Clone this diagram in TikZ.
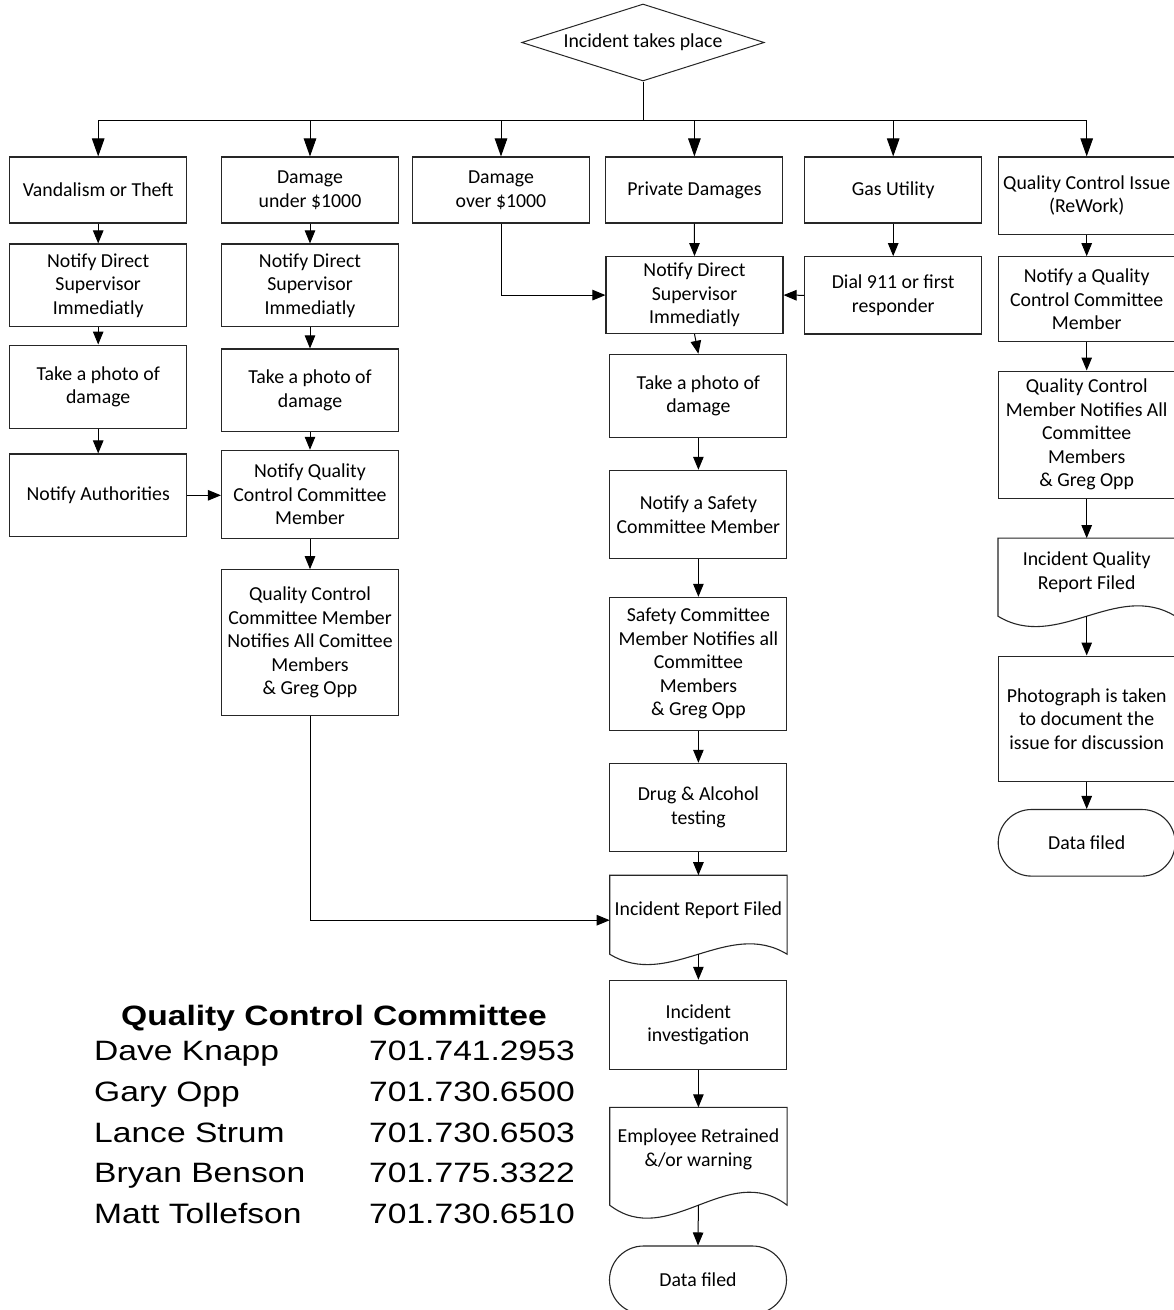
\documentclass[tikz,border=0pt]{standalone}
\usepackage{fontspec}
\setmainfont{Carlito}
\newfontfamily\arialx[FakeStretch=1.2]{Liberation Sans}
\usetikzlibrary{arrows.meta,shapes.geometric,shapes.misc,calc}
\newcommand\bxfont{\fontsize{19.8}{23.5}\selectfont}
\newcommand\docoutline[2]{%
  \draw[boxline] (#1.south west) -- (#1.north west) -- (#1.north east) -- (#1.south east)
    .. controls ($(#1.south west)!0.6667!(#1.south east)+(0,-#2)$) and ($(#1.south west)!0.3333!(#1.south east)+(0,#2)$) .. (#1.south west) -- cycle;}
\begin{document}
\begin{tikzpicture}[x=1pt,y=-1pt,
  boxline/.style={draw=black!85, line width=1.1pt},
  box/.style={boxline, rectangle, minimum width=177pt, inner sep=0pt, align=center, font=\bxfont},
  docbox/.style={rectangle, minimum width=177pt, inner sep=0pt},
  doctext/.style={align=center, font=\bxfont, inner sep=0pt},
  term/.style={boxline, rounded rectangle, minimum width=177pt, inner sep=0pt, font=\bxfont},
  diam/.style={draw=black!85, line width=1pt, diamond, minimum width=242.5pt, minimum height=77pt, inner sep=0pt, font=\bxfont},
  conn/.style={line width=1pt},
  arr/.style={conn, -{Triangle[length=13pt,width=10.5pt]}},
  bigarr/.style={conn, -{Triangle[length=18pt,width=12.5pt]}},
  big/.style={anchor=base west, inner sep=0pt, font=\arialx\fontsize{28}{28}\selectfont}
]
\path[fill=white, use as bounding box] (0,0) rectangle (1174,1310);

% start
\node[diam] (start) at (643,42.5) {\makebox[0pt]{Incident takes place}};

% top row
\node[box, minimum height=66pt] (a1) at (98.2,190) {Vandalism or Theft};
\node[box, minimum height=66pt] (b1) at (310,190) {Damage\\under \$1000};
\node[box, minimum height=66pt] (c1) at (501,190) {Damage\\over \$1000};
\node[box, minimum height=66pt] (d1) at (694.4,190) {Private Damages};
\node[box, minimum height=66pt] (e1) at (893.2,190) {Gas Utility};
\node[box, minimum height=77.3pt] (f1) at (1086.7,195.6) {Quality Control Issue\\(ReWork)};

% column A
\node[box, minimum height=82.7pt] (a2) at (98.2,285.3) {Notify Direct\\Supervisor\\Immediatly};
\node[box, minimum height=83.3pt] (a3) at (98.2,386.7) {Take a photo of\\damage};
\node[box, minimum height=82.7pt] (a4) at (98.2,495.3) {Notify Authorities};

% column B
\node[box, minimum height=82.7pt] (b2) at (310,285.3) {Notify Direct\\Supervisor\\Immediatly};
\node[box, minimum height=82.7pt] (b3) at (310,390.3) {Take a photo of\\damage};
\node[box, minimum height=88.4pt] (b4) at (310,494.5) {Notify Quality\\Control Committee\\Member};
\node[box, minimum height=145.6pt] (b5) at (310,642.5) {Quality Control\\Committee Member\\Notifies All Comittee\\Members\\\& Greg Opp};

% column D
\node[box, minimum height=77pt] (d2) at (694.5,295.1) {Notify Direct\\Supervisor\\Immediatly};
\node[box, minimum height=83pt] (d3) at (698.4,395.8) {Take a photo of\\damage};
\node[box, minimum height=88.4pt] (d4) at (698.4,514.5) {Notify a Safety\\Committee Member};
\node[box, minimum height=132.7pt] (d5) at (698.4,663.7) {Safety Committee\\Member Notifies all\\Committee\\Members\\\& Greg Opp};
\node[box, minimum height=88.4pt] (d6) at (698.4,807.5) {Drug \& Alcohol\\testing};
\node[docbox, minimum height=78.6pt] (d7) at (698.4,914.7) {};
\docoutline{d7}{36}
\node[doctext] (d7t) at ($(d7.center)+(0,-4.5)$) {Incident Report Filed};
\node[box, minimum height=88.8pt] (d8) at (698.4,1024.7) {Incident\\investigation};
\node[docbox, minimum height=97.5pt] (d9) at (698.4,1156.25) {};
\docoutline{d9}{45}
\node[doctext] (d9t) at ($(d9.center)+(0,-7)$) {Employee Retrained\\\&/or warning};
\node[term, minimum height=68pt] (d10) at (698,1280) {Data filed};

% column E
\node[box, minimum height=77.3pt] (e2) at (893.2,295.3) {Dial 911 or first\\responder};

% column F
\node[box, minimum height=85pt] (f2) at (1086.7,299.2) {Notify a Quality\\Control Committee\\Member};
\node[box, minimum height=127.3pt] (f3) at (1086.7,434.7) {Quality Control\\Member Notifies All\\Committee\\Members\\\& Greg Opp};
\node[docbox, minimum height=77.7pt] (f4) at (1086.7,577.15) {};
\docoutline{f4}{36}
\node[doctext] (f4t) at ($(f4.center)+(0,-5)$) {Incident Quality\\Report Filed};
\node[box, minimum height=125.3pt] (f5) at (1086.7,718.7) {Photograph is taken\\to document the\\issue for discussion};
\node[term, minimum height=66.6pt] (f6) at (1086.7,842.8) {Data filed};

% connectors
\coordinate (bar) at (643,120.5);
\draw[conn] (start.south) -- (bar);
\foreach \n in {a1,b1,c1,d1,e1,f1} \draw[bigarr] (bar) -| (\n.north);

\draw[arr] (a1.south) -- (a2.north);
\draw[arr] (a2.south) -- (a3.north);
\draw[arr] (a3.south) -- (a4.north);
\draw[arr] (a4.east) -- (a4.east -| b4.west);

\draw[arr] (b1.south) -- (b2.north);
\draw[arr] (b2.south) -- (b3.north);
\draw[arr] (b3.south) -- (b4.north);
\draw[arr] (b4.south) -- (b5.north);
\draw[arr] (b5.south) |- ($(d7.west)+(0,5.5)$);

\draw[arr] (c1.south) |- (d2.west);
\draw[arr] (d1.south) -- (d2.north);
\draw[arr] (d2.south) -- (d3.north);
\draw[arr] (d3.south) -- (d4.north);
\draw[arr] (d4.south) -- (d5.north);
\draw[arr] (d5.south) -- (d6.north);
\draw[arr] (d6.south) -- (d7.north);
\draw[arr] (d7.south) -- (d8.north);
\draw[arr] (d8.south) -- (d9.north);
\draw[arr] (d9.south) -- (d10.north);

\draw[arr] (e1.south) -- (e2.north);
\draw[arr] (e2.west) -- (d2.east);

\draw[arr] (f1.south) -- (f2.north);
\draw[arr] (f2.south) -- (f3.north);
\draw[arr] (f3.south) -- (f4.north);
\draw[arr] (f4.south) -- (f5.north);
\draw[arr] (f5.south) -- (f6.north);

% committee list
\node[big, font=\arialx\bfseries\fontsize{28}{28}\selectfont] (qcc) at (121,1025) {Quality Control Committee};
\node[big] (n1) at (94,1060.5) {Dave Knapp};
\node[big] (p1) at (369,1060.5) {701.741.2953};
\node[big] (n2) at (94,1101) {Gary Opp};
\node[big] (p2) at (369,1101) {701.730.6500};
\node[big] (n3) at (94,1142) {Lance Strum};
\node[big] (p3) at (369,1142) {701.730.6503};
\node[big] (n4) at (94,1182.5) {Bryan Benson};
\node[big] (p4) at (369,1182.5) {701.775.3322};
\node[big] (n5) at (94,1223.5) {Matt Tollefson};
\node[big] (p5) at (369,1223.5) {701.730.6510};
\end{tikzpicture}
\end{document}
